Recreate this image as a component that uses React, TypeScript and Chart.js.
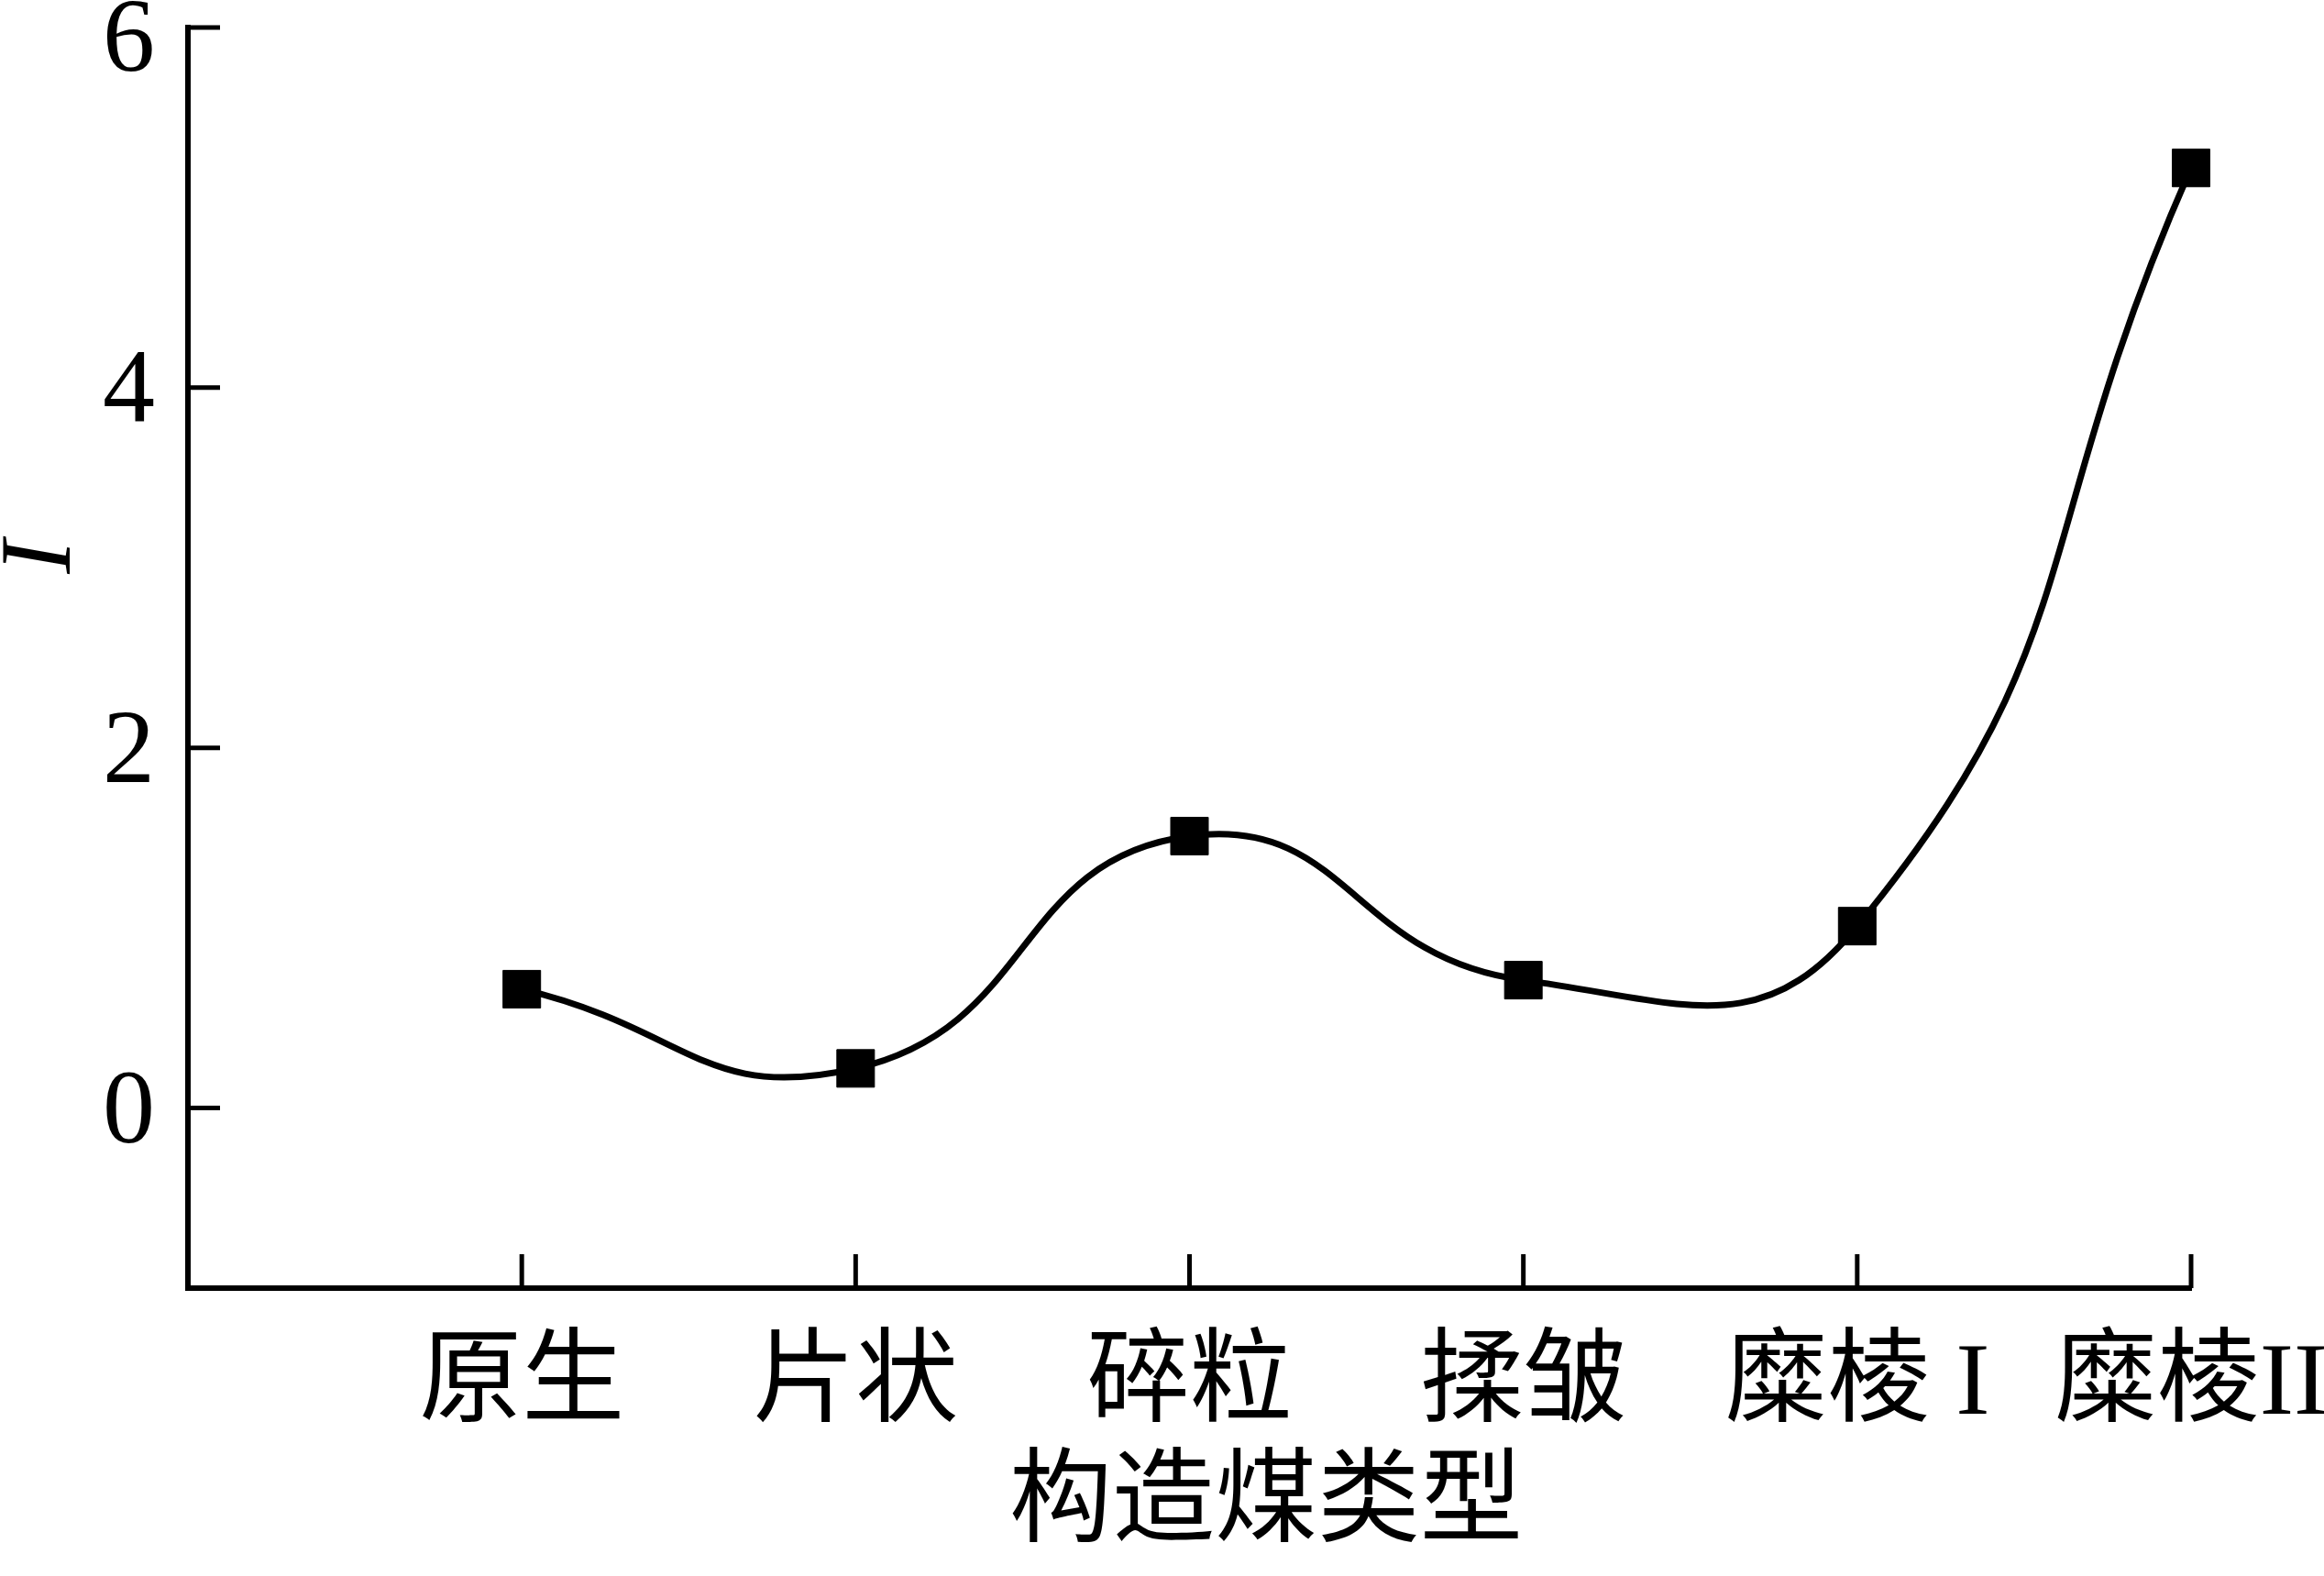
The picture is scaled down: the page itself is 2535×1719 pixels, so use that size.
import React, { useEffect, useRef } from "react";
import { Chart, registerables } from "chart.js";

Chart.register(...registerables);

// ---- data ----
const categories = ["原生", "片状", "碎粒", "揉皱", "糜棱 I", "糜棱II"];
const categoryPositions = [1, 2, 3, 4, 5, 6];
const values = [0.66, 0.22, 1.51, 0.71, 1.01, 5.22];
const yTicks = [0, 2, 4, 6];
const xTitle = "构造煤类型";
const yTitle = "I";

const FONT = '"Liberation Serif", "Times New Roman", "Noto Sans CJK SC", serif';
const Y_FONT_SIZE = 114;

const axisDecor = {
  id: "axisDecor",
  afterDraw(chart: any) {
    const ctx = chart.ctx;
    const xs = chart.scales.x;
    const ys = chart.scales.y;
    ctx.save();
    ctx.strokeStyle = "#000";
    ctx.fillStyle = "#000";
    ctx.lineWidth = 5;
    ctx.lineCap = "butt";
    for (const v of categoryPositions) {
      const px = xs.getPixelForValue(v);
      ctx.beginPath();
      ctx.moveTo(px, ys.bottom);
      ctx.lineTo(px, ys.bottom - 37);
      ctx.stroke();
    }
    ctx.font = `${Y_FONT_SIZE}px ${FONT}`;
    ctx.textAlign = "right";
    ctx.textBaseline = "alphabetic";
    for (const v of yTicks) {
      const py = ys.getPixelForValue(v);
      ctx.beginPath();
      ctx.moveTo(xs.left, py);
      ctx.lineTo(xs.left + 35, py);
      ctx.stroke();
      const base = Math.max(py + 0.33 * Y_FONT_SIZE, 77);
      ctx.fillText(String(v), xs.left - 36, base);
    }
    // y title (rotated italic)
    ctx.save();
    ctx.translate(47, ys.getPixelForValue(3.06));
    ctx.rotate(-Math.PI / 2);
    ctx.font = `italic 110px ${FONT}`;
    ctx.textAlign = "center";
    ctx.textBaseline = "middle";
    ctx.fillText(yTitle, 0, 0);
    ctx.restore();
    // x title
    ctx.font = `112px ${FONT}`;
    ctx.textAlign = "center";
    ctx.textBaseline = "middle";
    ctx.fillText(xTitle, 1381, 1644);
    ctx.restore();
  },
};

const zeroPad = (s: any) => {
  s.paddingTop = 0;
  s.paddingBottom = 0;
  s.paddingLeft = 0;
  s.paddingRight = 0;
};

export default function App() {
  const ref = useRef<HTMLCanvasElement | null>(null);
  useEffect(() => {
    if (!ref.current) return;
    const chart = new Chart(ref.current, {
      type: "line",
      data: {
        datasets: [
          {
            data: categoryPositions.map((x, i) => ({ x, y: values[i] })),
            borderColor: "#000",
            borderWidth: 7,
            tension: 0.5,
            fill: false,
            pointStyle: "rect",
            pointRadius: 29,
            pointBackgroundColor: "#000",
            pointBorderColor: "#000",
            pointBorderWidth: 1,
            clip: false as any,
          },
        ],
      },
      options: {
        animation: false,
        responsive: false,
        devicePixelRatio: 1,
        layout: { padding: { top: 21, right: 145, left: 0, bottom: 0 } },
        plugins: { legend: { display: false }, tooltip: { enabled: false } },
        scales: {
          x: {
            type: "linear",
            min: 0,
            max: 6,
            afterBuildTicks: (s: any) => {
              s.ticks = categoryPositions.map((v) => ({ value: v }));
            },
            afterFit: (s: any) => {
              s.height = 314;
              zeroPad(s);
            },
            ticks: {
              callback: (v: any) => {
                const i = categoryPositions.indexOf(Number(v));
                return i >= 0 ? categories[i] : "";
              },
              font: { family: FONT, size: 112 },
              color: "#000",
              padding: 40,
              maxRotation: 0,
              autoSkip: false,
            },
            grid: { display: false, drawTicks: false },
            border: { display: true, color: "#000", width: 6 },
          },
          y: {
            type: "linear",
            min: -1,
            max: 6,
            afterBuildTicks: (s: any) => {
              s.ticks = yTicks.map((v) => ({ value: v }));
            },
            afterFit: (s: any) => {
              s.width = 205;
              zeroPad(s);
            },
            ticks: { display: false },
            grid: { display: false, drawTicks: false },
            border: { display: true, color: "#000", width: 6 },
          },
        },
      },
      plugins: [axisDecor],
    });
    return () => chart.destroy();
  }, []);
  return (
    <div style={{ position: "absolute", left: 0, top: 0, width: 2535, height: 1719, background: "#fff" }}>
      <canvas ref={ref} width={2535} height={1719} style={{ width: 2535, height: 1719, display: "block" }} />
    </div>
  );
}
